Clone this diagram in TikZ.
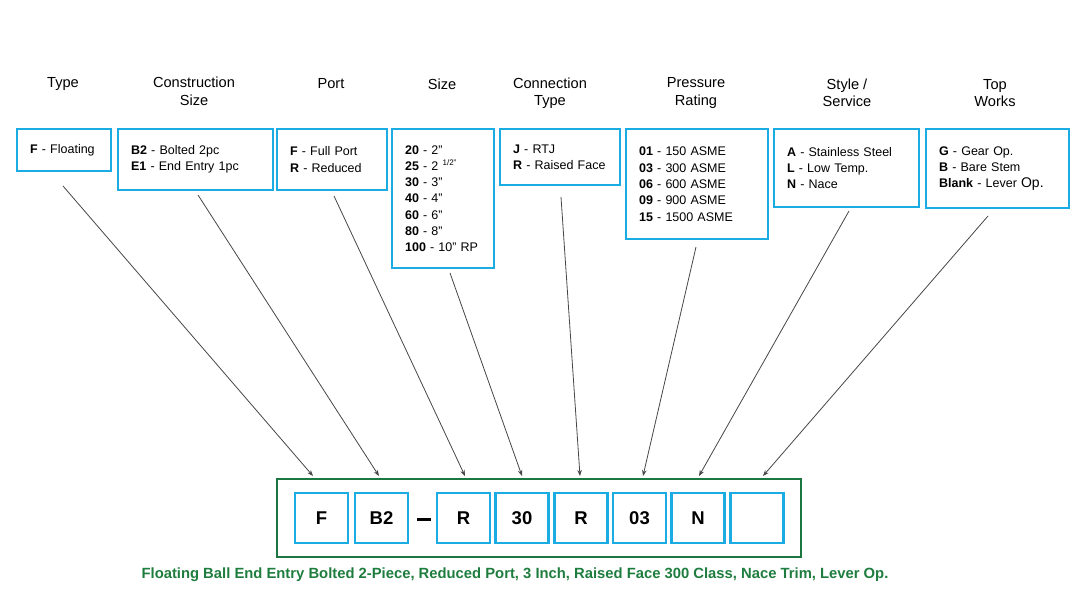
\documentclass[tikz,border=0pt]{standalone}
\usepackage{fontspec}
\setmainfont{Liberation Sans}
\usetikzlibrary{arrows.meta}
\definecolor{cblue}{RGB}{27,172,228}
\definecolor{boxgreen}{RGB}{28,118,66}
\definecolor{txtgreen}{RGB}{30,125,62}
\definecolor{linegray}{RGB}{70,70,70}
\tikzset{
  cat/.style={draw=cblue, line width=2.2pt, inner xsep=13pt, inner ysep=0pt,
    anchor=north west, align=left, font=\fontsize{12.5}{16.3}\selectfont},
  title/.style={align=center, inner sep=0pt, font=\fontsize{14.6}{17.5}\selectfont},
  codebox/.style={draw=cblue, line width=2.2pt, minimum width=53pt, minimum height=50pt,
    inner sep=0pt, font=\fontsize{18.5}{18.5}\selectfont\bfseries},
  pointer/.style={draw=linegray, line width=0.8pt, -{Stealth[length=6pt,width=4.5pt]}},
}
\begin{document}
\begin{tikzpicture}[x=1pt,y=-1pt]
\useasboundingbox (0,0) rectangle (1080,595);
% titles
\node[title] (t1) at (63,84) {Type};
\node[title] (t2) at (194,91.5) {Construction\\Size};
\node[title] (t3) at (331,84) {Port};
\node[title] (t4) at (442,84) {Size};
\node[title] (t5) at (550,93) {Connection\\Type};
\node[title] (t6) at (696,93) {Pressure\\Rating};
\node[title] (t7) at (847,93) {Style /\\Service};
\node[title] (t8) at (995,93) {Top\\Works};
% category boxes
\node[cat, text width=68pt, minimum height=42pt] (b1) at (16,128) {\textbf{F} - Floating};
\node[cat, text width=129pt, minimum height=61pt] (b2) at (117,128) {\textbf{B2} - Bolted 2pc\\\textbf{E1} - End Entry 1pc};
\node[cat, text width=84pt, minimum height=61pt] (b3) at (276,128) {\textbf{F} - Full Port\\\textbf{R} - Reduced};
\node[cat, text width=76pt, minimum height=139pt] (b4) at (391,128) {\textbf{20} - 2”\\\textbf{25} - 2 \raisebox{4.5pt}{\fontsize{8}{8}\selectfont 1/2”}\\\textbf{30} - 3”\\\textbf{40} - 4”\\\textbf{60} - 6”\\\textbf{80} - 8”\\\textbf{100} - 10” RP};
\node[cat, text width=94pt, minimum height=56pt] (b5) at (499,128) {\textbf{J} - RTJ\\\textbf{R} - Raised Face};
\node[cat, text width=116pt, minimum height=110pt] (b6) at (625,128) {\textbf{01} - 150 ASME\\\textbf{03} - 300 ASME\\\textbf{06} - 600 ASME\\\textbf{09} - 900 ASME\\\textbf{15} - 1500 ASME};
\node[cat, text width=119pt, minimum height=78pt] (b7) at (773,128) {\textbf{A} - Stainless Steel\\\textbf{L} - Low Temp.\\\textbf{N} - Nace};
\node[cat, text width=117pt, minimum height=79pt] (b8) at (925,128) {\textbf{G} - Gear Op.\\\textbf{B} - Bare Stem\\\textbf{Blank} - Lever {\fontsize{14}{16}\selectfont Op.}};
% code box
\node[draw=boxgreen, line width=2pt, minimum width=524pt, minimum height=78pt, inner sep=0pt] (code) at (539,518) {};
\node[codebox] (c1) at (321.5,518) {F};
\node[codebox] (c2) at (381.5,518) {B2};
\node[inner sep=0pt] (dash) at (424,519) {\rule{14pt}{3pt}};
\node[codebox] (c3) at (463.5,518) {R};
\node[codebox] (c4) at (522,518) {30};
\node[codebox] (c5) at (581,518) {R};
\node[codebox] (c6) at (639.5,518) {03};
\node[codebox] (c7) at (698,518) {N};
\node[codebox] (c8) at (757,518) {};
% caption
\node[inner sep=0pt, text=txtgreen, font=\bfseries\fontsize{14.8}{17}\selectfont] (cap) at (515,575)
  {Floating Ball End Entry Bolted 2-Piece, Reduced Port, 3 Inch, Raised Face 300 Class, Nace Trim, Lever Op.};
% connectors
\coordinate (s1) at (63,186);  \coordinate (e1) at (313,476);
\coordinate (s2) at (198,195); \coordinate (e2) at (379,476);
\coordinate (s3) at (334,196); \coordinate (e3) at (465,476);
\coordinate (s4) at (450,273); \coordinate (e4) at (522,476);
\coordinate (s5) at (561,197); \coordinate (e5) at (580,476);
\coordinate (s6) at (696,247); \coordinate (e6) at (643,476);
\coordinate (s7) at (849,211); \coordinate (e7) at (699,476);
\coordinate (s8) at (988,216); \coordinate (e8) at (763,476);
\foreach \i in {1,...,8} { \draw[pointer] (s\i) -- (e\i); }
\end{tikzpicture}
\end{document}
